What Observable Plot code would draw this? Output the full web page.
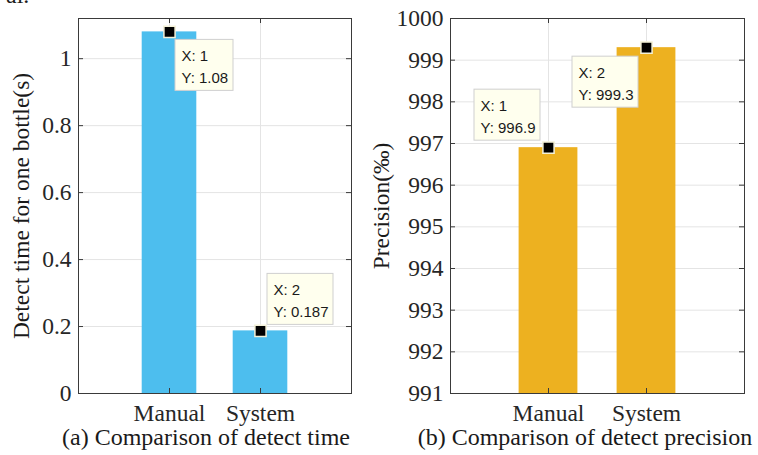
<!DOCTYPE html>
<html><head><meta charset="utf-8">
<script src="https://cdn.jsdelivr.net/npm/d3@7"></script>
<script src="https://cdn.jsdelivr.net/npm/@observablehq/plot@0.6"></script>
<style>
body{margin:0;background:#fff;}
#wrap{position:relative;width:758px;height:455px;overflow:hidden;font-family:'Liberation Serif','Times New Roman',serif;color:#1a1a1a;}
.panel{position:absolute;top:0;}
.panel text{font-family:'Liberation Serif','Times New Roman',serif;}
.lbl{position:absolute;white-space:nowrap;line-height:0.9;font-family:'Liberation Serif','Times New Roman',serif;}
</style></head><body><div id="wrap"></div>
<script>
// ---- data ----
const categories = ["Manual", "System"];
const positions = [1, 2];
const detectTime = [1.08, 0.187];
const precision = [996.9, 999.3];
const timeTicks = [0, 0.2, 0.4, 0.6, 0.8, 1];
const precisionTicks = [991, 992, 993, 994, 995, 996, 997, 998, 999, 1000];
const timeDomain = [0, 1.12];
const precisionDomain = [991, 1000];
const titles = ["(a) Comparison of detect time", "(b) Comparison of detect precision"];
const yLabels = ["Detect time for one bottle(s)", "Precision(\u2030)"];

const serif = "'Liberation Serif','Times New Roman',serif";
const sans = "'Liberation Sans',Arial,Helvetica,sans-serif";
const tipFs = 15;
const ctx = document.createElement("canvas").getContext("2d");
ctx.font = `${tipFs}px ${sans}`;

function tipMarks(d, left, top) {
  const w = Math.round(ctx.measureText("Y: " + d.yl).width) + 11;
  const h = 51;
  return [
    Plot.rect([d], {x1: "x", x2: "x", y1: "y", y2: "y",
      insetLeft: left, insetRight: -(left + w), insetTop: top, insetBottom: -(top + h),
      fill: "#ffffee", stroke: "#cfcfcf", strokeWidth: 1}),
    Plot.dot([d], {x: "x", y: "y", symbol: "square", r: 6.3, fill: "#000", stroke: "#f4f1d8", strokeWidth: 1.5}),
    Plot.text([d], {x: "x", y: "y", text: dd => "X: " + dd.xl, dx: left + 6, dy: top + 21 - 0.32 * tipFs,
      textAnchor: "start", fontSize: tipFs, fill: "#1a1a1a"}),
    Plot.text([d], {x: "x", y: "y", text: dd => "Y: " + dd.yl, dx: left + 6, dy: top + 43 - 0.32 * tipFs,
      textAnchor: "start", fontSize: tipFs, fill: "#1a1a1a"})
  ];
}

function panel({values, ticks, domain, color, width, ml, mr, tipPos}) {
  const rows = positions.map((p, i) => ({x: p, v: values[i]}));
  const base = domain[0];
  const tips = positions.map((p, i) => ({x: p, y: values[i], xl: String(p), yl: String(values[i])}));
  const svg = Plot.plot({
    width, height: 455,
    marginLeft: ml, marginRight: mr, marginTop: 18, marginBottom: 62,
    x: {domain: [0, 3], ticks: positions, tickFormat: d => categories[d - 1], tickSize: 0, tickPadding: 11, label: null},
    y: {domain, ticks, tickFormat: d => String(d), tickSize: 0, tickPadding: 7, label: null},
    style: {fontSize: "23.5px", color: "#262626", background: "transparent", overflow: "visible"},
    marks: [
      Plot.ruleY(ticks, {stroke: "#e4e4e4", strokeWidth: 1}),
      Plot.ruleX(positions, {stroke: "#e4e4e4", strokeWidth: 1}),
      Plot.rect(rows, {x1: d => d.x - 0.3, x2: d => d.x + 0.3, y1: base, y2: "v", fill: color}),
      Plot.frame({stroke: "#3a3a3a", strokeWidth: 1}),
      Plot.ruleY(ticks, {x1: 0, x2: 0, insetRight: -5, stroke: "#3a3a3a"}),
      Plot.ruleY(ticks, {x1: 3, x2: 3, insetLeft: -5, stroke: "#3a3a3a"}),
      Plot.ruleX(positions, {y1: domain[0], y2: domain[0], insetTop: -5, stroke: "#3a3a3a"}),
      Plot.ruleX(positions, {y1: domain[1], y2: domain[1], insetBottom: -5, stroke: "#3a3a3a"}),
      ...tips.flatMap((t, i) => tipMarks(t, tipPos[i][0], tipPos[i][1]))
    ]
  });
  // datatip text uses a sans face, like the original tool
  svg.querySelectorAll("g[aria-label='text']").forEach(g => {
    g.style.fontFamily = sans;
    g.querySelectorAll("text").forEach(t => { t.style.fontFamily = sans; });
  });
  return svg;
}

const wrap = document.getElementById("wrap");

const left = panel({values: detectTime, ticks: timeTicks, domain: timeDomain, color: "#4dbeee",
  width: 379, ml: 78, mr: 28, tipPos: [[6, 8], [7, -57]]});
left.classList.add("panel"); left.style.left = "0px";
wrap.appendChild(left);

const right = panel({values: precision, ticks: precisionTicks, domain: precisionDomain, color: "#edb120",
  width: 379, ml: 71, mr: 14, tipPos: [[-74, -58], [-74, 9]]});
right.classList.add("panel"); right.style.left = "379px";
wrap.appendChild(right);

function addLabel(text, cx, baseline, fs, rotate) {
  const el = document.createElement("div");
  el.className = "lbl";
  el.textContent = text;
  el.style.fontSize = fs + "px";
  const asc = (0.891 - (1.107 - 0.9) / 2) * fs; // baseline offset from top of line box
  if (rotate) {
    // baseline given as x position (text reads bottom-to-top)
    const c = baseline - (asc - 0.45 * fs);
    el.style.left = c + "px";
    el.style.top = cx + "px";
    el.style.transform = "translate(-50%,-50%) rotate(-90deg)";
  } else {
    el.style.left = cx + "px";
    el.style.top = (baseline - asc) + "px";
    el.style.transform = "translateX(-50%)";
  }
  wrap.appendChild(el);
}
addLabel(yLabels[0], 205.5, 30, 23.5, true);
addLabel(yLabels[1], 205.5, 390, 23.5, true);
addLabel(titles[0], 206, 446, 24, false);
addLabel(titles[1], 585, 446, 24, false);
// clipped fragment of text from the page above
const frag = document.createElement("div");
frag.className = "lbl"; frag.textContent = "al.";
frag.style.fontSize = "24px"; frag.style.left = "6px"; frag.style.top = (4 - 0.79 * 24) + "px";
wrap.appendChild(frag);
</script>
</body></html>
